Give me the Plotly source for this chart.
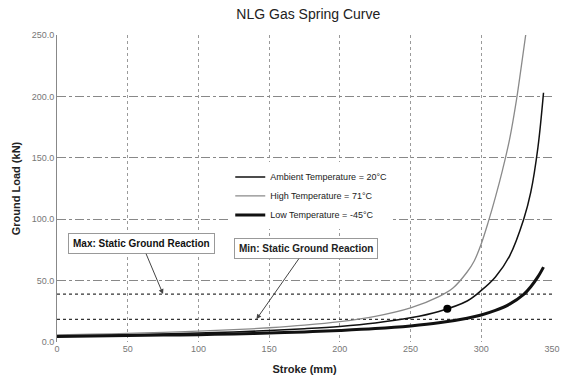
import plotly.graph_objects as go

stroke_amb = [0, 25, 50, 75, 100, 125, 150, 175, 200, 225, 250, 270, 290, 300, 310, 320, 330, 335, 340, 344]
load_amb = [5.0, 5.4, 5.9, 6.5, 7.3, 8.2, 9.3, 10.8, 12.7, 15.5, 19.7, 24.9, 33.4, 42, 53, 70, 100, 122, 158, 203]

stroke_high = [0, 25, 50, 75, 100, 125, 150, 175, 200, 225, 250, 270, 280, 290, 295, 300, 305, 310, 315, 320, 325, 328, 332]
load_high = [5.8, 6.3, 7.0, 7.8, 8.8, 10.0, 11.6, 13.7, 16.6, 20.9, 27.8, 37, 44, 57, 66, 80, 98, 118, 140, 165, 198, 222, 255]

stroke_low = [0, 25, 50, 75, 100, 125, 150, 175, 200, 225, 250, 270, 290, 300, 310, 320, 330, 335, 340, 344]
load_low = [4.5, 4.8, 5.2, 5.6, 6.0, 6.6, 7.3, 8.2, 9.4, 10.9, 13.1, 15.6, 19.4, 22, 25.7, 30.8, 38.7, 45, 53, 61]

static_max = 39
static_min = 18.5
marker_point = (276, 27)

x_ticks = [0, 50, 100, 150, 200, 250, 300, 350]
y_ticks = [0, 50, 100, 150, 200, 250]

fig = go.Figure()

fig.add_trace(go.Scatter(x=[0, 350], y=[static_max, static_max], mode="lines",
                         line=dict(color="#333333", width=1.2, dash="dot"),
                         showlegend=False, hoverinfo="skip"))
fig.add_trace(go.Scatter(x=[0, 350], y=[static_min, static_min], mode="lines",
                         line=dict(color="#333333", width=1.2, dash="dot"),
                         showlegend=False, hoverinfo="skip"))

fig.add_trace(go.Scatter(x=stroke_amb, y=load_amb, mode="lines",
                         name="Ambient Temperature = 20°C",
                         line=dict(color="#111111", width=1.5, shape="spline")))
fig.add_trace(go.Scatter(x=stroke_high, y=load_high, mode="lines",
                         name="High Temperature = 71°C",
                         line=dict(color="#8a8a8a", width=1.3, shape="spline")))
fig.add_trace(go.Scatter(x=stroke_low, y=load_low, mode="lines",
                         name="Low Temperature = -45°C",
                         line=dict(color="#111111", width=3, shape="spline")))
fig.add_trace(go.Scatter(x=[marker_point[0]], y=[marker_point[1]], mode="markers",
                         marker=dict(color="#000000", size=8),
                         showlegend=False, hoverinfo="skip"))

fig.add_annotation(x=75, y=static_max, ax=60, ay=80, xref="x", yref="y",
                   axref="x", ayref="y",
                   text="<b>Max: Static Ground Reaction</b>", showarrow=True,
                   arrowhead=2, arrowsize=1, arrowwidth=1, arrowcolor="#444444",
                   font=dict(family="Arial", size=10, color="#111111"),
                   bordercolor="#999999", borderwidth=1, borderpad=4, bgcolor="white")
fig.add_annotation(x=141, y=static_min, ax=176, ay=76, xref="x", yref="y",
                   axref="x", ayref="y",
                   text="<b>Min: Static Ground Reaction</b>", showarrow=True,
                   arrowhead=2, arrowsize=1, arrowwidth=1, arrowcolor="#444444",
                   font=dict(family="Arial", size=10, color="#222222"),
                   bordercolor="#999999", borderwidth=1, borderpad=4, bgcolor="white")

fig.update_layout(
    width=571, height=385,
    margin=dict(l=57, r=11, t=35, b=39),
    paper_bgcolor="white", plot_bgcolor="white",
    title=dict(text="NLG Gas Spring Curve", x=0.54, xanchor="center", y=0.975, yanchor="top",
               font=dict(family="Arial", size=14, color="#222222")),
    font=dict(family="Arial", color="#333333"),
    legend=dict(x=0.35, y=0.585, xanchor="left", yanchor="top",
                bgcolor="white", font=dict(size=9, color="#222222"),
                itemwidth=30, tracegroupgap=0),
    xaxis=dict(range=[0, 350], tickvals=x_ticks, showgrid=True, gridcolor="#9a9a9a",
               griddash="dot", gridwidth=1, zeroline=False, showline=False,
               tickfont=dict(size=9, color="#777777"), ticks="",
               title=dict(text="<b>Stroke (mm)</b>", font=dict(size=11, color="#222222"), standoff=12)),
    yaxis=dict(range=[0, 250], tickvals=y_ticks, tickformat=".1f", showgrid=True,
               gridcolor="#888888", griddash="dashdot", gridwidth=1, zeroline=False,
               showline=True, linecolor="#888888", linewidth=1,
               tickfont=dict(size=9, color="#777777"), ticks="",
               title=dict(text="<b>Ground Load (kN)</b>", font=dict(size=11, color="#222222"), standoff=8)),
)

fig.write_html("out.html")
